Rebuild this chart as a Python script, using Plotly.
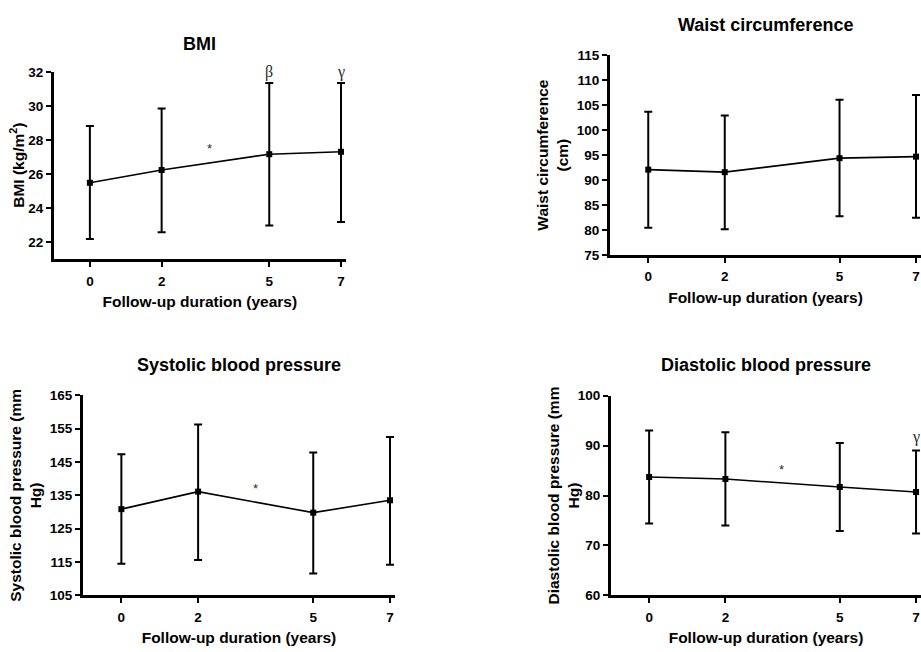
import plotly.graph_objects as go

W, H = 921, 652

years = [0, 2, 5, 7]
x_ticks = [0, 2, 5, 7]

# Mean and error-bar limits per follow-up visit
bmi_mean = [25.5, 26.25, 27.18, 27.32]
bmi_upper = [28.83, 29.86, 31.37, 31.37]
bmi_lower = [22.2, 22.6, 22.99, 23.2]

waist_mean = [92.1, 91.6, 94.4, 94.7]
waist_upper = [103.7, 102.95, 106.1, 107.05]
waist_lower = [80.5, 80.2, 82.8, 82.5]

sbp_mean = [130.85, 136.1, 129.8, 133.5]
sbp_upper = [147.3, 156.2, 147.8, 152.5]
sbp_lower = [114.5, 115.6, 111.6, 114.2]

dbp_mean = [83.7, 83.3, 81.7, 80.7]
dbp_upper = [93.0, 92.65, 90.5, 89.0]
dbp_lower = [74.4, 74.0, 72.9, 72.4]

bmi_ticks = [22, 24, 26, 28, 30, 32]
waist_ticks = [75, 80, 85, 90, 95, 100, 105, 110, 115]
sbp_ticks = [105, 115, 125, 135, 145, 155, 165]
dbp_ticks = [60, 70, 80, 90, 100]

FONT = "Liberation Sans, Arial, Helvetica, sans-serif"
SERIF = "Liberation Serif, Times New Roman, serif"

X_PAD = 0.13  # room past the last visit so its error-bar caps are not clipped


def px_x(a, b):
    return [a / W, min(b / W, 1.0)]


def px_y(top, bottom):
    return [1 - bottom / H, 1 - top / H]


def bold_labels(vals):
    return [f"<b>{v}</b>" for v in vals]


panels = [
    dict(title="BMI", ytitle="BMI (kg/m<sup>2</sup>)", mean=bmi_mean, up=bmi_upper,
         lo=bmi_lower, yr=[21, 32], yt=bmi_ticks, dom_x=px_x(54, 341 + 36 * X_PAD),
         dom_y=px_y(66.7, 258.3), title_y=37.5, ytitle_x=17),
    dict(title="Waist circumference", ytitle="Waist circumference<br>(cm)",
         mean=waist_mean, up=waist_upper, lo=waist_lower, yr=[75, 115], yt=waist_ticks,
         dom_x=px_x(610, 921), dom_y=px_y(49.3, 254), title_y=18, ytitle_x=552.5),
    dict(title="Systolic blood pressure", ytitle="Systolic blood pressure (mm<br>Hg)",
         mean=sbp_mean, up=sbp_upper, lo=sbp_lower, yr=[105, 165], yt=sbp_ticks,
         dom_x=px_x(83, 390 + 38.3 * X_PAD), dom_y=px_y(397.3, 602.3), title_y=366,
         ytitle_x=25.5),
    dict(title="Diastolic blood pressure", ytitle="Diastolic blood pressure (mm<br>Hg)",
         mean=dbp_mean, up=dbp_upper, lo=dbp_lower, yr=[60, 100], yt=dbp_ticks,
         dom_x=px_x(611, 921), dom_y=px_y(397.7, 602.3), title_y=366, ytitle_x=563),
]

fig = go.Figure()
layout = dict(
    width=W, height=H, margin=dict(l=0, r=0, t=0, b=0),
    paper_bgcolor="white", plot_bgcolor="white", showlegend=False,
    font=dict(family=FONT, color="black"),
)
annotations = []

for i, p in enumerate(panels, start=1):
    xa = "x" if i == 1 else f"x{i}"
    ya = "y" if i == 1 else f"y{i}"
    err_plus = [u - m for u, m in zip(p["up"], p["mean"])]
    err_minus = [m - l for m, l in zip(p["mean"], p["lo"])]
    fig.add_trace(go.Scatter(
        x=years, y=p["mean"], mode="lines+markers", xaxis=xa, yaxis=ya,
        line=dict(color="black", width=1.6),
        marker=dict(symbol="square", size=6, color="black"),
        error_y=dict(type="data", array=err_plus, arrayminus=err_minus,
                     color="black", thickness=2, width=4),
        cliponaxis=False,
    ))
    axis_common = dict(showgrid=False, zeroline=False, showline=True,
                       linecolor="black", linewidth=3, ticks="outside",
                       tickwidth=2, ticklen=5, tickcolor="black",
                       tickfont=dict(family=FONT, size=13.5, color="black"))
    layout["xaxis" if i == 1 else f"xaxis{i}"] = dict(
        domain=p["dom_x"], range=[-1, 7 + X_PAD], tickvals=x_ticks,
        ticktext=bold_labels(x_ticks), anchor=ya, ticklabelstandoff=2,
        title=dict(text="<b>Follow-up duration (years)</b>", standoff=9,
                   font=dict(family=FONT, size=15.5, color="black")),
        **axis_common)
    layout["yaxis" if i == 1 else f"yaxis{i}"] = dict(
        domain=p["dom_y"], range=p["yr"], tickvals=p["yt"],
        ticktext=bold_labels(p["yt"]), anchor=xa, **axis_common)
    # Panel heading
    annotations.append(dict(
        text=f"<b>{p['title']}</b>", xref="paper", yref="paper",
        x=(p["dom_x"][0] + p["dom_x"][1]) / 2, y=1 - p["title_y"] / H,
        xanchor="center", yanchor="middle", showarrow=False,
        font=dict(family=FONT, size=18, color="black"),
    ))
    # Vertical y-axis title
    annotations.append(dict(
        text=f"<b>{p['ytitle']}</b>", xref="paper", yref="paper",
        x=p["ytitle_x"] / W, y=(p["dom_y"][0] + p["dom_y"][1]) / 2,
        xanchor="center", yanchor="middle", textangle=-90, showarrow=False,
        font=dict(family=FONT, size=15.5, color="black"),
    ))

# Significance markers
marks = [
    ("x", "y", 3.33, 27.5, "*", FONT, 13),
    ("x", "y", 5, 32.0, "β", SERIF, 16),
    ("x", "y", 7, 32.0, "γ", SERIF, 16),
    ("x3", "y3", 3.5, 137.0, "*", FONT, 13),
    ("x4", "y4", 3.46, 85.2, "*", FONT, 13),
    ("x4", "y4", 7, 91.7, "γ", SERIF, 16),
]
for xr, yr, xv, yv, txt, fam, sz in marks:
    annotations.append(dict(
        text=txt, xref=xr, yref=yr, x=xv, y=yv, showarrow=False,
        xanchor="center", yanchor="middle",
        font=dict(family=fam, size=sz, color="#2a2a2a"),
    ))

layout["annotations"] = annotations
fig.update_layout(**layout)
fig.write_html("out.html")
